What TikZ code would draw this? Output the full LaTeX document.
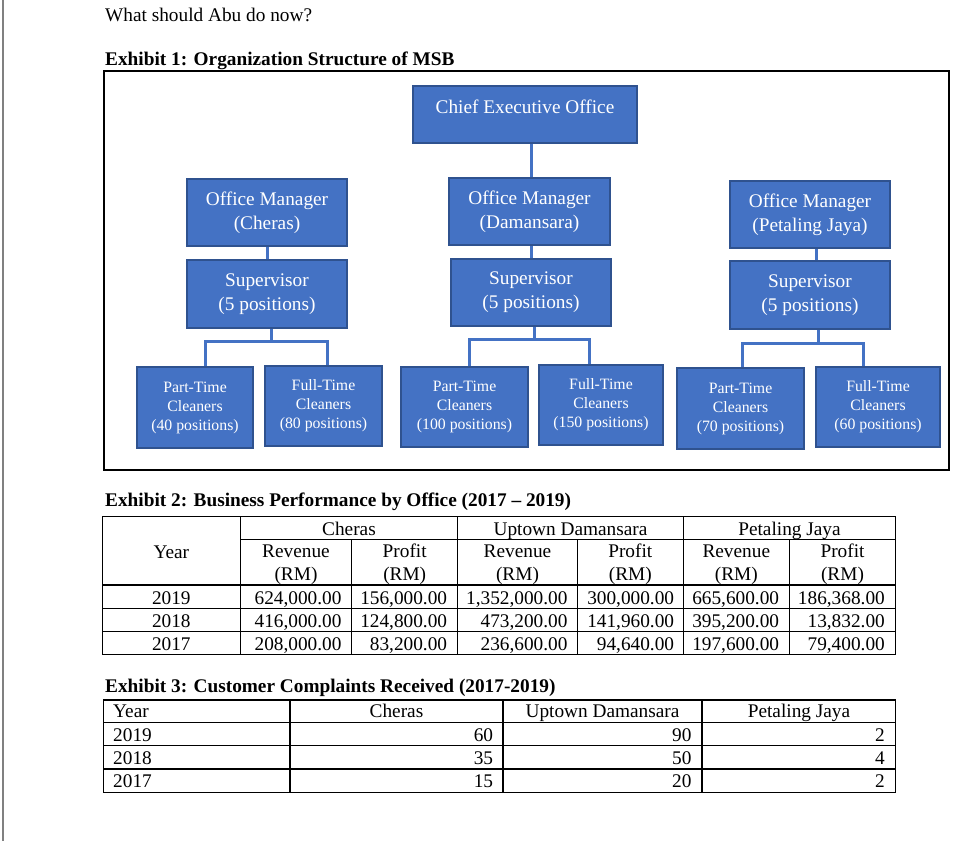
\documentclass[tikz,border=0pt]{standalone}
\usepackage{fontspec}
\setmainfont{Liberation Serif}
\usepackage{tikz}

\definecolor{ofcblue}{HTML}{4472C4}
\definecolor{ofcedge}{HTML}{2F528F}
\newcommand{\bodysize}{\fontsize{19.3}{23.7}\selectfont}
\newcommand{\crewsize}{\fontsize{15.8}{19}\selectfont}

\tikzset{
  post/.style={draw=ofcedge, line width=1.5pt, fill=ofcblue, text=white, align=center, inner sep=0pt, font=\bodysize},
  crew/.style={post, font=\crewsize},
  link/.style={draw=ofcblue, line width=3pt},
  gridline/.style={line width=1.2pt},
  txt/.style={inner sep=0pt, anchor=base, font=\bodysize},
  num/.style={txt, anchor=base east},
  lft/.style={txt, anchor=base west},
}

\begin{document}
\begin{tikzpicture}[x=1pt,y=-1pt]
\useasboundingbox[fill=white] (0,0) rectangle (975,841);
\draw[line width=2pt, gray] (3,0) -- (3,841);

% headings
\node[lft] (ask) at (105,21) {What should Abu do now?};
\node[lft, font=\bodysize\bfseries] (exOne) at (105,65.7) {Exhibit 1: Organization Structure of MSB};
\draw[line width=1.3pt] (104,71) rectangle (949,470);

% org chart
\node[post, minimum width=224pt, minimum height=57pt] (ceo) at (525,114.5) {};
\node[txt, anchor=center, text=white] (ceoName) at (525,107) {Chief Executive Office};

\node[post, minimum width=160pt, minimum height=67pt] (cheMgr) at (267,212.5) {Office Manager\\(Cheras)};
\node[post, minimum width=161pt, minimum height=67pt] (damMgr) at (529.5,211.5) {Office Manager\\(Damansara)};
\node[post, minimum width=160pt, minimum height=67pt] (pjMgr) at (810,214.5) {Office Manager\\(Petaling Jaya)};

\node[post, minimum width=160pt, minimum height=68pt] (cheSup) at (267,294) {Supervisor\\(5 positions)};
\node[post, minimum width=160pt, minimum height=67pt] (damSup) at (531,292.5) {Supervisor\\(5 positions)};
\node[post, minimum width=160pt, minimum height=68pt] (pjSup) at (810,295) {Supervisor\\(5 positions)};

\node[crew, minimum width=116pt, minimum height=81pt] (chePT) at (195,407.5) {Part-Time\\Cleaners\\(40 positions)};
\node[crew, minimum width=117pt, minimum height=80pt] (cheFT) at (323.5,406) {Full-Time\\Cleaners\\(80 positions)};
\node[crew, minimum width=127pt, minimum height=80pt] (damPT) at (464.5,407) {Part-Time\\Cleaners\\(100 positions)};
\node[crew, minimum width=124pt, minimum height=80pt] (damFT) at (601,405) {Full-Time\\Cleaners\\(150 positions)};
\node[crew, minimum width=127pt, minimum height=81pt] (pjPT) at (740.5,408.5) {Part-Time\\Cleaners\\(70 positions)};
\node[crew, minimum width=124pt, minimum height=80pt] (pjFT) at (878,407) {Full-Time\\Cleaners\\(60 positions)};

\draw[link] ([xshift=6pt]ceo.south) -- ([xshift=1.5pt]damMgr.north);
\draw[link] (cheMgr.south) -- (cheSup.north);
\draw[link] ([xshift=1.5pt]damMgr.south) -- (damSup.north);
\draw[link] ([xshift=6pt]pjMgr.south) -- ([xshift=6pt]pjSup.north);

\draw[link] ([xshift=4pt]cheSup.south) -- ++(0,14);
\draw[link] ([xshift=10pt]chePT.north) -- ++(0,-25) -| ([xshift=3.5pt]cheFT.north);
\draw[link] ([xshift=3pt]damSup.south) -- ++(0,14);
\draw[link] ([xshift=4.5pt]damPT.north) -- ++(0,-27) -| ([xshift=-12pt]damFT.north);
\draw[link] ([xshift=8pt]pjSup.south) -- ++(0,15);
\draw[link] ([xshift=2pt]pjPT.north) -- ++(0,-24) -| ([xshift=-15pt]pjFT.north);

% exhibit 2
\node[lft, font=\bodysize\bfseries] (exTwo) at (105,506.7) {Exhibit 2: Business Performance by Office (2017 -- 2019)};
\draw[gridline] (102.3,516.7) rectangle (895.7,654.3);
\draw[gridline] (240.3,539.3) -- (895.7,539.3);
\draw[gridline] (102.3,585) -- (895.7,585);
\draw[gridline] (102.3,608.3) -- (895.7,608.3);
\draw[gridline] (102.3,631.7) -- (895.7,631.7);
\draw[gridline] (240.3,516.7) -- (240.3,654.3);
\draw[gridline] (457.7,516.7) -- (457.7,654.3);
\draw[gridline] (683.3,516.7) -- (683.3,654.3);
\draw[gridline] (351.7,539.3) -- (351.7,654.3);
\draw[gridline] (577.3,539.3) -- (577.3,654.3);
\draw[gridline] (789.3,539.3) -- (789.3,654.3);

\node[txt] (perfChe) at (349,535.7) {Cheras};
\node[txt] (perfUpt) at (570.5,535.7) {Uptown Damansara};
\node[txt] (perfPJ) at (789.5,535.7) {Petaling Jaya};
\node[txt] (perfYear) at (171.3,558.3) {Year};
% two-line heads sit on the baseline of their last line
\node[txt, align=center] (perfCR) at (296,580.7) {Revenue\\(RM)};
\node[txt, align=center] (perfCP) at (404.7,580.7) {Profit\\(RM)};
\node[txt, align=center] (perfUR) at (517.5,580.7) {Revenue\\(RM)};
\node[txt, align=center] (perfUP) at (630.3,580.7) {Profit\\(RM)};
\node[txt, align=center] (perfJR) at (736.3,580.7) {Revenue\\(RM)};
\node[txt, align=center] (perfJP) at (842.5,580.7) {Profit\\(RM)};

\node[txt] (p19y) at (171.3,604) {2019};
\node[num] (p19cr) at (341.7,604) {624,000.00};
\node[num] (p19cp) at (447.3,604) {156,000.00};
\node[num] (p19ur) at (567.7,604) {1,352,000.00};
\node[num] (p19up) at (674.3,604) {300,000.00};
\node[num] (p19jr) at (779.3,604) {665,600.00};
\node[num] (p19jp) at (885,604) {186,368.00};

\node[txt] (p18y) at (171.3,627.3) {2018};
\node[num] (p18cr) at (341.7,627.3) {416,000.00};
\node[num] (p18cp) at (447.3,627.3) {124,800.00};
\node[num] (p18ur) at (567.7,627.3) {473,200.00};
\node[num] (p18up) at (674.3,627.3) {141,960.00};
\node[num] (p18jr) at (779.3,627.3) {395,200.00};
\node[num] (p18jp) at (885,627.3) {13,832.00};

\node[txt] (p17y) at (171.3,650.5) {2017};
\node[num] (p17cr) at (341.7,650.5) {208,000.00};
\node[num] (p17cp) at (447.3,650.5) {83,200.00};
\node[num] (p17ur) at (567.7,650.5) {236,600.00};
\node[num] (p17up) at (674.3,650.5) {94,640.00};
\node[num] (p17jr) at (779.3,650.5) {197,600.00};
\node[num] (p17jp) at (885,650.5) {79,400.00};

% exhibit 3
\node[lft, font=\bodysize\bfseries] (exThree) at (105,692) {Exhibit 3: Customer Complaints Received (2017-2019)};
\draw[gridline] (103.3,700) rectangle (895.7,792.3);
\draw[gridline] (103.3,722.3) -- (895.7,722.3);
\draw[gridline] (103.3,745.7) -- (895.7,745.7);
\draw[gridline] (103.3,769) -- (895.7,769);
\draw[gridline] (290,700) -- (290,792.3);
\draw[gridline] (503,700) -- (503,792.3);
\draw[gridline] (702,700) -- (702,792.3);

\node[lft] (compYear) at (113,717.7) {Year};
\node[txt] (compChe) at (396.5,717.7) {Cheras};
\node[txt] (compUpt) at (602.5,717.7) {Uptown Damansara};
\node[txt] (compPJ) at (799,717.7) {Petaling Jaya};

\node[lft] (c19y) at (113,741) {2019};
\node[num] (c19c) at (493.3,741) {60};
\node[num] (c19u) at (691.7,741) {90};
\node[num] (c19j) at (885,741) {2};

\node[lft] (c18y) at (113,764.3) {2018};
\node[num] (c18c) at (493.3,764.3) {35};
\node[num] (c18u) at (691.7,764.3) {50};
\node[num] (c18j) at (885,764.3) {4};

\node[lft] (c17y) at (113,787.3) {2017};
\node[num] (c17c) at (493.3,787.3) {15};
\node[num] (c17u) at (691.7,787.3) {20};
\node[num] (c17j) at (885,787.3) {2};
\end{tikzpicture}
\end{document}
